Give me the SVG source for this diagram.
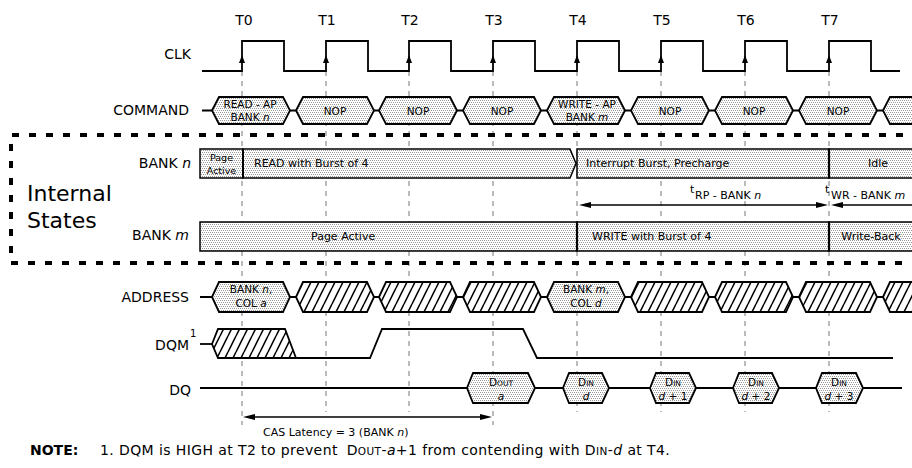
<svg xmlns="http://www.w3.org/2000/svg" width="912" height="468" viewBox="0 0 912 468">
<defs>
<pattern id="dots" patternUnits="userSpaceOnUse" width="4" height="4">
<rect width="4" height="4" fill="#fff"/>
<rect x="0" y="0" width="1" height="1" fill="#999"/>
<rect x="2" y="0" width="1" height="1" fill="#999"/>
<rect x="1" y="2" width="1" height="1" fill="#999"/>
<rect x="3" y="2" width="1" height="1" fill="#999"/>
</pattern>
<pattern id="hatch" patternUnits="userSpaceOnUse" width="8" height="16">
<rect width="8" height="16" fill="#fff"/>
<path d="M-4,16 L4,0 M4,16 L12,0" stroke="#000" stroke-width="1.5"/>
</pattern>
</defs>
<style>
text{font-family:"DejaVu Sans","Liberation Sans",sans-serif;fill:#000}
.lbl{font-size:14px;text-anchor:end}
.tk{font-size:14px;text-anchor:middle}
.in{font-size:10.5px;text-anchor:middle}
.st{font-size:11px}
.it{font-style:italic}
.sc{font-size:7.5px}
.sig{fill:none;stroke:#000;stroke-width:1.8}
.bus{fill:url(#dots);stroke:#000;stroke-width:1.8;stroke-linejoin:miter}
.hb{fill:url(#hatch);stroke:#000;stroke-width:1.8}
.box{fill:url(#dots);stroke:#000;stroke-width:1.5}
.grid{stroke:#777;stroke-width:1;stroke-dasharray:5 5}
.ah{fill:#000}
</style>

<!-- grid lines -->
<g id="grid">
<line class="grid" x1="242" y1="71" x2="242" y2="425"/>
<line class="grid" x1="326" y1="71" x2="326" y2="412"/>
<line class="grid" x1="409" y1="71" x2="409" y2="412"/>
<line class="grid" x1="493" y1="71" x2="493" y2="425"/>
<line class="grid" x1="577" y1="71" x2="577" y2="412"/>
<line class="grid" x1="661" y1="71" x2="661" y2="412"/>
<line class="grid" x1="745" y1="71" x2="745" y2="412"/>
<line class="grid" x1="829" y1="71" x2="829" y2="412"/>
</g>

<g id="tlabels">
<text class="tk" x="244" y="25">T0</text>
<text class="tk" x="327" y="25">T1</text>
<text class="tk" x="410" y="25">T2</text>
<text class="tk" x="494" y="25">T3</text>
<text class="tk" x="578" y="25">T4</text>
<text class="tk" x="662" y="25">T5</text>
<text class="tk" x="746" y="25">T6</text>
<text class="tk" x="830" y="25">T7</text>
</g>

<g id="rowlabels">
<text class="lbl" x="191" y="59">CLK</text>
<text class="lbl" x="189" y="115">COMMAND</text>
<text class="lbl" x="191" y="168">BANK <tspan class="it">n</tspan></text>
<text class="lbl" x="189" y="240">BANK <tspan class="it">m</tspan></text>
<text class="lbl" x="189" y="302">ADDRESS</text>
<text class="lbl" x="189" y="350">DQM</text>
<text x="190" y="337" style="font-size:10px">1</text>
<text class="lbl" x="191" y="395">DQ</text>
</g>

<g id="internal-states">
<path d="M920,135 H11 V263 H920" fill="none" stroke="#000" stroke-width="4" stroke-dasharray="7 10"/>
<text x="27" y="201" style="font-size:22px">Internal</text>
<text x="27" y="228" style="font-size:22px">States</text>
</g>

<g id="clk">
<path class="sig" d="M202,71 H242 V41 H284 V71 H326 V41 H368 V71 H409 V41 H451 V71 H493 V41 H535 V71 H577 V41 H619 V71 H661 V41 H703 V71 H745 V41 H787 V71 H829 V41 H871 V71 H900"/>
<polygon class="ah" points="242,55 239,63 245,63"/>
<polygon class="ah" points="326,55 323,63 329,63"/>
<polygon class="ah" points="409,55 406,63 412,63"/>
<polygon class="ah" points="493,55 490,63 496,63"/>
<polygon class="ah" points="577,55 574,63 580,63"/>
<polygon class="ah" points="661,55 658,63 664,63"/>
<polygon class="ah" points="745,55 742,63 748,63"/>
<polygon class="ah" points="829,55 826,63 832,63"/>
</g>

<g id="connectors">
<path class="sig" d="M202,110.5 H212 M290,110.5 H296 M374,110.5 H379 M457,110.5 H463 M541,110.5 H547 M625,110.5 H631 M709,110.5 H715 M793,110.5 H799 M877,110.5 H883"/>
<path class="sig" d="M200,297 H212 M290,297 H296 M374,297 H379 M457,297 H463 M541,297 H547 M625,297 H631 M709,297 H715 M793,297 H799 M877,297 H883"/>
<path class="sig" d="M200,344 H212"/>
<path class="sig" d="M296,358 H370 L382,329 H523 L537,358 H893"/>
<path class="sig" d="M200,388 H467 M535,388 H563 M609,388 H650 M696,388 H733 M779,388 H816 M863,388 H902"/>
<line x1="589" y1="205" x2="818" y2="205" stroke="#000" stroke-width="1.5"/>
<polygon class="ah" points="579,205 591,202 591,208"/>
<polygon class="ah" points="828,205 816,202 816,208"/>
<line x1="841" y1="205" x2="912" y2="205" stroke="#000" stroke-width="1.5"/>
<polygon class="ah" points="831,205 843,202 843,208"/>
<line x1="253" y1="417" x2="482" y2="417" stroke="#000" stroke-width="1.5"/>
<polygon class="ah" points="243,417 255,414 255,420"/>
<polygon class="ah" points="492,417 480,414 480,420"/>
</g>

<g id="command">
<g id="cmd-t0"><path class="bus" d="M212,110.5 L219,97 H283 L290,110.5 L283,124 H219 Z"/><text class="in" x="250" y="108">READ - AP</text><text class="in" x="250" y="121">BANK <tspan class="it">n</tspan></text></g>
<g id="cmd-t1"><path class="bus" d="M296,110.5 L303,97 H367 L374,110.5 L367,124 H303 Z"/><text class="in" x="335" y="114.5">NOP</text></g>
<g id="cmd-t2"><path class="bus" d="M379,110.5 L386,97 H450 L457,110.5 L450,124 H386 Z"/><text class="in" x="418" y="114.5">NOP</text></g>
<g id="cmd-t3"><path class="bus" d="M463,110.5 L470,97 H534 L541,110.5 L534,124 H470 Z"/><text class="in" x="502" y="114.5">NOP</text></g>
<g id="cmd-t4"><path class="bus" d="M547,110.5 L554,97 H618 L625,110.5 L618,124 H554 Z"/><text class="in" x="587" y="108">WRITE - AP</text><text class="in" x="587" y="121">BANK <tspan class="it">m</tspan></text></g>
<g id="cmd-t5"><path class="bus" d="M631,110.5 L638,97 H702 L709,110.5 L702,124 H638 Z"/><text class="in" x="670" y="114.5">NOP</text></g>
<g id="cmd-t6"><path class="bus" d="M715,110.5 L722,97 H786 L793,110.5 L786,124 H722 Z"/><text class="in" x="754" y="114.5">NOP</text></g>
<g id="cmd-t7"><path class="bus" d="M799,110.5 L806,97 H870 L877,110.5 L870,124 H806 Z"/><text class="in" x="838" y="114.5">NOP</text></g>
<g id="cmd-t8"><path class="bus" d="M883,110.5 L890,97 H920 V124 H890 Z"/></g>
</g>

<g id="bank-n">
<g id="bn-page"><rect class="box" x="200" y="149" width="43" height="29"/><text x="221.5" y="161" style="font-size:9.5px;text-anchor:middle">Page</text><text x="221.5" y="174" style="font-size:9.5px;text-anchor:middle">Active</text></g>
<g id="bn-read"><path class="box" d="M243,149 H570 L576,163.5 L570,178 H243 Z"/><text class="st" x="254" y="167">READ with Burst of 4</text></g>
<g id="bn-int"><rect class="box" x="577" y="149" width="252" height="29"/><text class="st" x="586" y="167">Interrupt Burst, Precharge</text></g>
<g id="bn-idle"><rect class="box" x="829" y="149" width="90" height="29"/><text class="st" x="878" y="167" text-anchor="middle">Idle</text></g>
<line x1="243" y1="149" x2="243" y2="178" stroke="#000" stroke-width="2"/>
<line x1="829" y1="149" x2="829" y2="178" stroke="#000" stroke-width="2.2"/>
</g>

<g id="timing-labels">
<text class="st" x="690" y="193">t</text><text class="st" x="695" y="199">RP - BANK <tspan class="it">n</tspan></text>
<text class="st" x="825" y="193">t</text><text class="st" x="831" y="199">WR - BANK <tspan class="it">m</tspan></text>
</g>

<g id="bank-m">
<g id="bm-page"><rect class="box" x="200" y="222" width="377" height="29"/><text class="st" x="311" y="240">Page Active</text></g>
<g id="bm-write"><rect class="box" x="577" y="222" width="252" height="29"/><text class="st" x="592" y="240">WRITE with Burst of 4</text></g>
<g id="bm-wb"><rect class="box" x="829" y="222" width="90" height="29"/><text class="st" x="871" y="240" text-anchor="middle">Write-Back</text></g>
<line x1="577" y1="222" x2="577" y2="251" stroke="#000" stroke-width="2.2"/>
<line x1="829" y1="222" x2="829" y2="251" stroke="#000" stroke-width="2.2"/>
</g>

<g id="address">
<g id="addr-t0"><path class="bus" d="M212,297 L219,282 H283 L290,297 L283,312 H219 Z"/><text class="in" x="251" y="293">BANK <tspan class="it">n</tspan>,</text><text class="in" x="251" y="307">COL <tspan class="it">a</tspan></text></g>
<g id="addr-t1"><path class="hb" d="M296,297 L303,282 H367 L374,297 L367,312 H303 Z"/></g>
<g id="addr-t2"><path class="hb" d="M379,297 L386,282 H450 L457,297 L450,312 H386 Z"/></g>
<g id="addr-t3"><path class="hb" d="M463,297 L470,282 H534 L541,297 L534,312 H470 Z"/></g>
<g id="addr-t4"><path class="bus" d="M547,297 L554,282 H618 L625,297 L618,312 H554 Z"/><text class="in" x="586" y="293">BANK <tspan class="it">m</tspan>,</text><text class="in" x="586" y="307">COL <tspan class="it">d</tspan></text></g>
<g id="addr-t5"><path class="hb" d="M631,297 L638,282 H702 L709,297 L702,312 H638 Z"/></g>
<g id="addr-t6"><path class="hb" d="M715,297 L722,282 H786 L793,297 L786,312 H722 Z"/></g>
<g id="addr-t7"><path class="hb" d="M799,297 L806,282 H870 L877,297 L870,312 H806 Z"/></g>
<g id="addr-t8"><path class="hb" d="M883,297 L890,282 H920 V312 H890 Z"/></g>
</g>

<g id="dqm">
<path class="hb" d="M212,344 L218,329 H285 L296,358 H218 Z"/>
</g>

<g id="dq">
<g id="dq-dout"><path class="bus" d="M467,388 L473,373 H528 L535,388 L528,403 H473 Z"/><text class="in" x="501" y="386">D<tspan class="sc">OUT</tspan></text><text class="in it" x="501" y="400">a</text></g>
<g id="dq-d0"><path class="bus" d="M563,388 L569,373 H602 L609,388 L602,403 H569 Z"/><text class="in" x="586" y="386">D<tspan class="sc">IN</tspan></text><text class="in it" x="586" y="400">d</text></g>
<g id="dq-d1"><path class="bus" d="M650,388 L656,373 H689 L696,388 L689,403 H656 Z"/><text class="in" x="673" y="386">D<tspan class="sc">IN</tspan></text><text class="in" x="673" y="400"><tspan class="it">d</tspan> + 1</text></g>
<g id="dq-d2"><path class="bus" d="M733,388 L739,373 H772 L779,388 L772,403 H739 Z"/><text class="in" x="756" y="386">D<tspan class="sc">IN</tspan></text><text class="in" x="756" y="400"><tspan class="it">d</tspan> + 2</text></g>
<g id="dq-d3"><path class="bus" d="M816,388 L822,373 H856 L863,388 L856,403 H822 Z"/><text class="in" x="839" y="386">D<tspan class="sc">IN</tspan></text><text class="in" x="839" y="400"><tspan class="it">d</tspan> + 3</text></g>
</g>

<g id="cas">
<text class="st" x="263" y="436">CAS Latency = 3 (BANK <tspan class="it">n</tspan>)</text>
</g>

<g id="note">
<text x="30" y="455" style="font-size:14px;font-weight:bold">NOTE:</text>
<text x="100" y="455" style="font-size:14px;letter-spacing:0.4px">1. DQM is HIGH at T2 to prevent <tspan dx="4">D</tspan><tspan style="font-size:10.5px">OUT</tspan>-<tspan class="it">a</tspan>+1 from contending with D<tspan style="font-size:10.5px">IN</tspan>-<tspan class="it">d</tspan> at T4.</text>
</g>
</svg>
